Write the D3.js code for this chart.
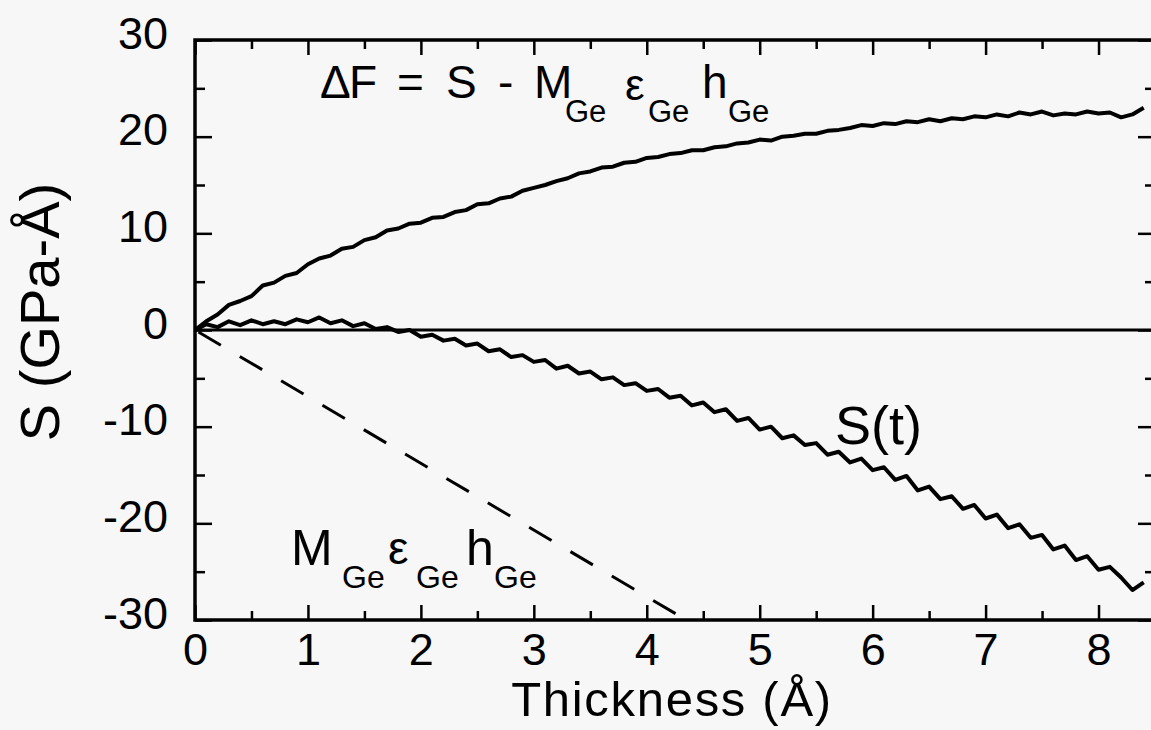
<!DOCTYPE html>
<html>
<head>
<meta charset="utf-8">
<script src="https://cdn.jsdelivr.net/npm/d3@7"></script>
<style>
  html, body { margin: 0; padding: 0; background: #f7f7f7; }
  svg { display: block; font-family: "Liberation Sans", Arial, Helvetica, sans-serif; }
</style>
</head>
<body>
<svg id="chart" width="1151" height="730"></svg>
<script>
// thickness grid (Å), 0.1 step
var thickness = d3.range(0, 85).map(function(i) { return +(i / 10).toFixed(1); });

// ΔF = S - M_Ge ε_Ge h_Ge  (GPa-Å)
var deltaF = [
  0, 0.9, 1.6, 2.6, 3.0, 3.5, 4.6, 4.9, 5.6, 5.9,
  6.8, 7.4, 7.7, 8.4, 8.6, 9.3, 9.6, 10.3, 10.5, 11.0,
  11.1, 11.6, 11.7, 12.2, 12.4, 13.0, 13.1, 13.6, 13.8, 14.4,
  14.7, 15.0, 15.4, 15.7, 16.2, 16.4, 16.8, 16.9, 17.3, 17.4,
  17.8, 17.9, 18.2, 18.3, 18.6, 18.6, 18.9, 19.0, 19.3, 19.4,
  19.7, 19.6, 20.0, 20.1, 20.3, 20.3, 20.6, 20.7, 20.9, 21.2,
  21.1, 21.4, 21.3, 21.6, 21.5, 21.8, 21.6, 21.9, 21.8, 22.1,
  22.0, 22.3, 22.1, 22.5, 22.3, 22.6, 22.2, 22.4, 22.3, 22.6,
  22.4, 22.5, 22.0, 22.3, 23.0
];

// measured stress-thickness S(t)
var stress = [
  0, 0.6, 0.3, 0.9, 0.5, 1.0, 0.6, 0.9, 0.6, 1.1,
  0.8, 1.3, 0.7, 1.0, 0.4, 0.7, 0.1, 0.3, -0.2, 0.0,
  -0.7, -0.5, -1.1, -0.9, -1.6, -1.4, -2.2, -2.0, -2.8, -2.6,
  -3.3, -3.1, -4.0, -3.7, -4.5, -4.3, -5.1, -4.9, -5.7, -5.5,
  -6.3, -6.1, -7.0, -6.8, -7.8, -7.5, -8.5, -8.2, -9.4, -9.1,
  -10.3, -10.0, -11.2, -10.9, -11.9, -11.7, -12.9, -12.6, -13.7, -13.3,
  -14.5, -14.2, -15.5, -15.1, -16.6, -16.2, -17.5, -17.2, -18.5, -18.1,
  -19.5, -19.1, -20.5, -20.1, -21.5, -21.2, -22.7, -22.3, -23.8, -23.4,
  -24.8, -24.5, -25.6, -26.9, -26.1
];

// M_Ge ε_Ge h_Ge straight line, endpoints
var mehX = [0, 4.35];
var mehY = [0, -30];

var xMajor = [0, 1, 2, 3, 4, 5, 6, 7, 8];
var xMinor = [0.5, 1.5, 2.5, 3.5, 4.5, 5.5, 6.5, 7.5];
var yMajor = [-30, -20, -10, 0, 10, 20, 30];
var yMinor = [-25, -15, -5, 5, 15, 25];

var pLeft = 195, pRight = 1155, pTop = 40, pBottom = 620;

var svg = d3.select("#chart");
var x = d3.scaleLinear().domain([0, 8.5]).range([pLeft, pRight]);
var y = d3.scaleLinear().domain([-30, 30]).range([pBottom, pTop]);

svg.append("defs").append("clipPath").attr("id", "plotclip")
  .append("rect")
    .attr("x", pLeft).attr("y", pTop)
    .attr("width", pRight - pLeft).attr("height", pBottom - pTop);

/*
 * ticks, all pointing inwards
 */
function styleAxis(g) {
  g.select(".domain").remove();
  g.selectAll(".tick line").attr("stroke", "#000").attr("stroke-width", 2.5);
  g.selectAll("text").attr("fill", "#000");
}

// plain hyphen for negatives, as in the original
var plain = function(d) { return String(d); };

svg.append("g").attr("transform", "translate(0," + pBottom + ")")
  .call(d3.axisBottom(x).tickValues(xMajor).tickSize(-15).tickPadding(13).tickFormat(plain))
  .attr("font-size", 45).attr("font-family", null)
  .call(styleAxis);
svg.append("g").attr("transform", "translate(0," + pBottom + ")")
  .call(d3.axisBottom(x).tickValues(xMinor).tickSize(-9).tickFormat(""))
  .call(styleAxis);
svg.append("g").attr("transform", "translate(0," + pTop + ")")
  .call(d3.axisTop(x).tickValues(xMajor).tickSize(-15).tickFormat(""))
  .call(styleAxis);
svg.append("g").attr("transform", "translate(0," + pTop + ")")
  .call(d3.axisTop(x).tickValues(xMinor).tickSize(-9).tickFormat(""))
  .call(styleAxis);

var yAxis = svg.append("g").attr("transform", "translate(" + pLeft + ",0)")
  .call(d3.axisLeft(y).tickValues(yMajor).tickSize(-17).tickPadding(27).tickFormat(plain))
  .attr("font-size", 45).attr("font-family", null)
  .call(styleAxis);
yAxis.selectAll("text").attr("dy", "0.18em");
svg.append("g").attr("transform", "translate(" + pLeft + ",0)")
  .call(d3.axisLeft(y).tickValues(yMinor).tickSize(-10).tickFormat(""))
  .call(styleAxis);
svg.append("g").attr("transform", "translate(" + pRight + ",0)")
  .call(d3.axisRight(y).tickValues(yMajor).tickSize(-17).tickFormat(""))
  .call(styleAxis);
svg.append("g").attr("transform", "translate(" + pRight + ",0)")
  .call(d3.axisRight(y).tickValues(yMinor).tickSize(-10).tickFormat(""))
  .call(styleAxis);

// frame
svg.append("rect")
  .attr("x", pLeft).attr("y", pTop)
  .attr("width", pRight - pLeft).attr("height", pBottom - pTop)
  .attr("fill", "none").attr("stroke", "#000").attr("stroke-width", 3.5);

var plot = svg.append("g").attr("clip-path", "url(#plotclip)");

// zero line
plot.append("line")
  .attr("x1", x(0)).attr("x2", x(8.5))
  .attr("y1", y(0)).attr("y2", y(0))
  .attr("stroke", "#000").attr("stroke-width", 3);

var line = d3.line()
  .x(function(d) { return x(d[0]); })
  .y(function(d) { return y(d[1]); });

plot.append("path")
  .datum(d3.zip(thickness, deltaF))
  .attr("d", line)
  .attr("fill", "none").attr("stroke", "#000")
  .attr("stroke-width", 4).attr("stroke-linejoin", "round");

plot.append("path")
  .datum(d3.zip(thickness, stress))
  .attr("d", line)
  .attr("fill", "none").attr("stroke", "#000")
  .attr("stroke-width", 4).attr("stroke-linejoin", "round");

plot.append("path")
  .datum(d3.zip(mehX, mehY))
  .attr("d", line)
  .attr("fill", "none").attr("stroke", "#000")
  .attr("stroke-width", 3).attr("stroke-dasharray", "26,22")
  .attr("stroke-dashoffset", -4);

/*
 * annotations
 */
function formula(g, parts) {
  var t = g.append("text").attr("fill", "#000");
  parts.forEach(function(p) {
    t.append("tspan")
      .attr("x", p.x).attr("y", p.y)
      .attr("font-size", p.size)
      .text(p.s);
  });
}

formula(svg, [
  {s: "Δ", x: 320, y: 98, size: 46},
  {s: "F", x: 349, y: 98, size: 46},
  {s: "=", x: 397, y: 98, size: 46},
  {s: "S", x: 446, y: 98, size: 46},
  {s: "-", x: 498, y: 98, size: 46},
  {s: "M", x: 534, y: 98, size: 46},
  {s: "Ge", x: 565, y: 122, size: 31},
  {s: "ε", x: 625, y: 100, size: 44},
  {s: "Ge", x: 648, y: 122, size: 31},
  {s: "h", x: 702, y: 98, size: 46},
  {s: "Ge", x: 728, y: 122, size: 31}
]);

formula(svg, [
  {s: "M", x: 291, y: 565, size: 50},
  {s: "Ge", x: 342, y: 588, size: 32},
  {s: "ε", x: 388, y: 564, size: 46},
  {s: "Ge", x: 416, y: 588, size: 32},
  {s: "h", x: 466, y: 565, size: 50},
  {s: "Ge", x: 494, y: 588, size: 32}
]);

svg.append("text")
  .attr("x", 835).attr("y", 444)
  .attr("font-size", 54).attr("fill", "#000")
  .text("S(t)");

// axis titles
svg.append("text")
  .attr("x", 672).attr("y", 716)
  .attr("text-anchor", "middle")
  .attr("font-size", 49).attr("letter-spacing", 1.7).attr("fill", "#000")
  .text("Thickness (Å)");

svg.append("text")
  .attr("transform", "translate(59,312) rotate(-90)")
  .attr("text-anchor", "middle")
  .attr("font-size", 56).attr("fill", "#000")
  .text("S (GPa-Å)");
</script>
</body>
</html>
